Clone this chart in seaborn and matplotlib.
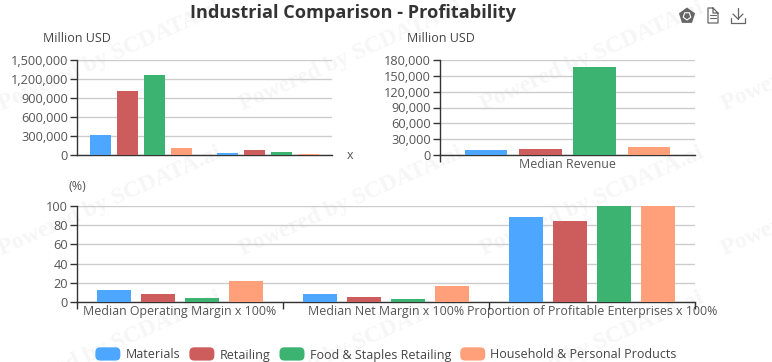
import pandas as pd
import matplotlib
matplotlib.use("Agg")
import matplotlib.pyplot as plt
import seaborn as sns
from matplotlib.patches import FancyBboxPatch, RegularPolygon, Rectangle
from matplotlib.legend_handler import HandlerPatch

W, H = 772, 362

# Data
sectors = ["Materials", "Retailing", "Food & Staples Retailing", "Household & Personal Products"]
colors = ["#4DA6FF", "#CD5C5C", "#3CB371", "#FFA07A"]

total_cats = ["Total A", "Total B"]
total_materials = [316000, 32000]
total_retailing = [1010000, 74000]
total_food = [1263000, 43000]
total_household = [115000, 20000]

revenue_cats = ["Median Revenue"]
revenue_materials = [9500]
revenue_retailing = [12000]
revenue_food = [167000]
revenue_household = [15700]

pct_cats = ["Median Operating Margin x 100%", "Median Net Margin x 100%",
            "Proportion of Profitable Enterprises x 100%"]
pct_materials = [13, 8, 88.8]
pct_retailing = [8, 5.7, 84]
pct_food = [3.8, 3, 100]
pct_household = [21.5, 16.3, 100]


def make_df(cats, *series):
    rows = []
    for name, vals in zip(sectors, series):
        for c, v in zip(cats, vals):
            rows.append({"cat": c, "sector": name, "value": v})
    return pd.DataFrame(rows)


def box(x0, y0, x1, y1):
    # pixel box (top-left origin) to figure fraction
    return [x0 / W, 1 - y1 / H, (x1 - x0) / W, (y1 - y0) / H]


sns.set_theme(style="white")
plt.rcParams["font.family"] = ["Open Sans", "Noto Sans", "DejaVu Sans"]

fig = plt.figure(figsize=(W / 100, H / 100), dpi=100)
fig.patch.set_facecolor("white")

# Watermark tiles on a pixel axes behind everything
bg = fig.add_axes([0, 0, 1, 1], zorder=-1)
bg.set_xlim(0, W)
bg.set_ylim(H, 0)
bg.axis("off")
for row_y in [105, 250, 395]:
    for col_x in [0, 241, 482, 723]:
        bg.text(col_x, row_y, "Powered by SCDATA.ai", family="Liberation Serif",
                weight="bold", fontsize=17, color="#F6F6F6", rotation=24,
                rotation_mode="anchor", ha="left", va="center", clip_on=True)


def draw(rect, cats, series, ymax, yticks, fmt):
    ax = fig.add_axes(box(*rect))
    ax.patch.set_alpha(0)
    sns.barplot(data=make_df(cats, *series), x="cat", y="value", hue="sector",
                hue_order=sectors, palette=colors, width=0.85, gap=0.22, saturation=1,
                legend=False, ax=ax, zorder=3, linewidth=0)
    ax.set_xlim(-0.5, len(cats) - 0.5)
    ax.set_ylim(0, ymax)
    ax.set_yticks(yticks)
    ax.set_yticklabels([fmt.format(t) for t in yticks], fontsize=9.2, color="#555555")
    ax.set_xlabel("")
    ax.set_ylabel("")
    ax.yaxis.grid(True, color="#CCCCCC", linewidth=1)
    ax.set_axisbelow(True)
    for s in ["top", "right"]:
        ax.spines[s].set_visible(False)
    for s in ["left", "bottom"]:
        ax.spines[s].set_color("#333333")
        ax.spines[s].set_linewidth(1)
    ax.tick_params(axis="y", length=5, width=1, color="#333333", pad=1.5, left=True)
    ax.tick_params(axis="x", length=0)
    return ax


def boundary_ticks(ax, where):
    ax.set_xticks(where, minor=True)
    ax.tick_params(axis="x", which="minor", bottom=True, length=5, width=1, color="#333333")


ax1 = draw((77, 60, 332, 155), total_cats,
           [total_materials, total_retailing, total_food, total_household],
           1500000, [0, 300000, 600000, 900000, 1200000, 1500000], "{:,}")
ax1.set_xticks([0, 1])
ax1.set_xticklabels(["", ""])

ax2 = draw((440, 60, 695, 155), revenue_cats,
           [revenue_materials, revenue_retailing, revenue_food, revenue_household],
           180000, [0, 30000, 60000, 90000, 120000, 150000, 180000], "{:,}")
ax2.set_xticks([0])
ax2.set_xticklabels(revenue_cats, fontsize=8.9, color="#555555")
ax2.tick_params(axis="x", pad=2)
boundary_ticks(ax2, [-0.5])

ax3 = draw((77, 206, 695, 302), pct_cats,
           [pct_materials, pct_retailing, pct_food, pct_household],
           100, [0, 20, 40, 60, 80, 100], "{}")
ax3.set_xticks([0, 1, 2])
ax3.set_xticklabels(pct_cats, fontsize=8.9, color="#555555")
ax3.tick_params(axis="x", pad=2)
boundary_ticks(ax3, [-0.5, 0.5, 1.5, 2.5])

# Axis names
fig.text(77 / W, 1 - 38 / H, "Million USD", fontsize=9.0, color="#444444", ha="center", va="center")
fig.text(441 / W, 1 - 38 / H, "Million USD", fontsize=9.0, color="#444444", ha="center", va="center")
fig.text(77 / W, 1 - 186 / H, "(%)", fontsize=9.0, color="#555555", ha="center", va="center")
fig.text(350 / W, 1 - 155 / H, "x", fontsize=9.0, color="#555555", ha="center", va="center")

fig.text(353 / W, 1 - 13 / H, "Industrial Comparison - Profitability", fontsize=13.1, weight="bold",
         color="#333333", ha="center", va="center")


class RoundHandler(HandlerPatch):
    def create_artists(self, legend, orig, xd, yd, w, h, fs, trans):
        p = FancyBboxPatch((0, -1.5), w, h + 1.5, boxstyle="round,pad=0,rounding_size=3.5",
                           facecolor=orig.get_facecolor(), edgecolor="none", transform=trans)
        return [p]


handles = [Rectangle((0, 0), 1, 1, facecolor=c) for c in colors]
fig.legend(handles, sectors, handler_map={Rectangle: RoundHandler()}, loc="center",
           bbox_to_anchor=(386 / W, 1 - 355 / H), ncol=4, frameon=False, fontsize=9.0,
           labelcolor="#444444", handlelength=2.0, handleheight=1.0, handletextpad=0.4,
           columnspacing=0.75, borderpad=0, borderaxespad=0)

# Toolbox icons, pixel overlay
ov = fig.add_axes([0, 0, 1, 1], zorder=5)
ov.set_xlim(0, W)
ov.set_ylim(H, 0)
ov.axis("off")
# y is inverted here, so a flipped polygon points up
ov.add_patch(RegularPolygon((687, 16), 5, radius=8.5, orientation=3.14159, facecolor="#666666", edgecolor="none"))
ov.add_patch(RegularPolygon((687, 16), 5, radius=4, facecolor="none", edgecolor="white", linewidth=0.8))
ov.plot([713, 708, 708, 718, 718, 713, 713, 718], [8, 8, 23, 23, 13, 8, 13, 13], color="#666666", lw=0.9)
ov.plot([710, 716], [15, 15], color="#666666", lw=0.8)
ov.plot([710, 716], [18, 18], color="#666666", lw=0.8)
ov.plot([731, 731, 745, 745], [18, 22.5, 22.5, 18], color="#666666", lw=0.9)
ov.plot([738, 738], [8, 19], color="#666666", lw=0.9)
ov.plot([733, 738, 743], [14, 19, 14], color="#666666", lw=0.9)

fig.savefig("out.png", dpi=100)
